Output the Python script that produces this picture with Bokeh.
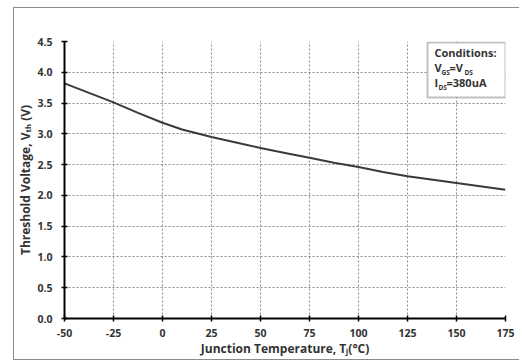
from bokeh.plotting import figure
from bokeh.models import Range1d, FixedTicker, Label, BoxAnnotation, CustomJSTickFormatter
from bokeh.embed import file_html
from bokeh.resources import INLINE

# ---- data ----
temp_c = [-50, -25, -12.5, 0, 10, 20, 25, 37.5, 50, 62.5, 75, 87.5, 100, 112.5, 125, 150, 175]
vth_v = [3.82, 3.51, 3.34, 3.18, 3.07, 2.99, 2.95, 2.86, 2.77, 2.69, 2.61, 2.53, 2.46, 2.38, 2.31, 2.20, 2.09]
x_ticks = [-50, -25, 0, 25, 50, 75, 100, 125, 150, 175]
y_ticks = [0.0, 0.5, 1.0, 1.5, 2.0, 2.5, 3.0, 3.5, 4.0, 4.5]
x_label = "Junction Temperature, Tⱼ(°C)"
y_label = "Threshold Voltage, Vₜₕ (V)"
cond_title = "Conditions:"

FONT = "Open Sans"
XMIN, XMAX, YMIN, YMAX = -50, 175, 0.0, 4.5
L, R, T, B = 64, 505, 41, 318   # frame position in the page

def dx(px):
    return XMIN + (px - L) / (R - L) * (XMAX - XMIN)

def dy(py):
    return YMIN + (B - py) / (B - T) * (YMAX - YMIN)

p = figure(frame_width=R - L, frame_height=B - T, output_backend="svg", toolbar_location=None,
           x_range=Range1d(XMIN, XMAX), y_range=Range1d(YMIN, YMAX),
           min_border_left=L - 14, min_border_right=14, min_border_top=T - 8,
           min_border_bottom=36, margin=(7, 0, 0, 13))
p.styles = {"border-left": "1px solid #8c8c8c", "border-top": "1px solid #8c8c8c",
            "border-bottom": "1px solid #8c8c8c"}
p.outline_line_color = None
p.background_fill_color = "white"
p.border_fill_color = "white"

p.line(temp_c, vth_v, line_color="#3a3a3a", line_width=2)

for ax, ticks in ((p.xaxis[0], x_ticks), (p.yaxis[0], y_ticks)):
    ax.ticker = FixedTicker(ticks=ticks)
    ax.axis_line_color = "black"
    ax.axis_line_width = 2
    ax.major_tick_line_color = "black"
    ax.major_tick_line_width = 1.5
    ax.major_tick_in = 3
    ax.major_tick_out = 3
    ax.minor_tick_line_color = None
    ax.major_label_text_font = FONT
    ax.major_label_text_font_style = "bold"
    ax.major_label_text_font_size = "10.5px"
    ax.major_label_text_color = "#333333"
    ax.axis_label_text_font = FONT
    ax.axis_label_text_font_style = "bold"
    ax.axis_label_text_font_size = "12px"
    ax.axis_label_text_color = "#333333"
p.yaxis[0].major_label_standoff = 9
p.xaxis[0].major_label_standoff = 7
p.yaxis[0].axis_label_standoff = 0
p.xaxis[0].axis_label_standoff = 0
p.yaxis[0].formatter = CustomJSTickFormatter(code="return tick.toFixed(1);")
p.xaxis[0].formatter = CustomJSTickFormatter(code="return tick.toFixed(0);")
p.xaxis[0].axis_label = x_label
p.yaxis[0].axis_label = y_label

for g in (p.xgrid[0], p.ygrid[0]):
    g.grid_line_color = "#8a8a8a"
    g.grid_line_dash = "2 2"
    g.grid_line_width = 1

# conditions box
p.add_layout(BoxAnnotation(left=dx(427), right=dx(505), top=dy(42), bottom=dy(97),
                           fill_color="white", fill_alpha=1, line_color="#333333", line_width=2))

def lab(text, px, py, size):
    p.add_layout(Label(x=dx(px), y=dy(py), text=text, text_font=FONT, text_font_style="bold",
                       text_font_size=f"{size}px", text_color="#333333"))

# conditions text (baselines)
lab(cond_title, 434, 59, 11)
lab("V", 434, 74, 11)
lab("GS", 441, 76, 6.5)
lab("=V", 449, 74, 11)
lab("DS", 464, 76, 6.5)
lab("I", 434, 89, 11)
lab("DS", 438, 91, 6.5)
lab("=380uA", 446, 89, 11)

open("out.html", "w").write(file_html(p, INLINE))
